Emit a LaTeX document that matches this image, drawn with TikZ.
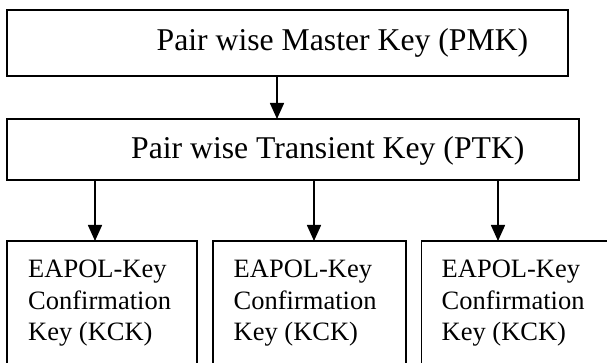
\documentclass[tikz,border=0pt]{standalone}
\usepackage{fontspec}
\setmainfont{Liberation Serif}
\usetikzlibrary{arrows.meta}
\begin{document}
\begin{tikzpicture}[x=1pt,y=-1pt,
  keybox/.style={draw, line width=1.5pt, inner sep=0pt, outer sep=0pt},
  bigtext/.style={font=\fontsize{31.7}{38}\selectfont, anchor=base west, inner sep=0pt},
  smalltext/.style={font=\fontsize{26.5}{31.5}\selectfont, anchor=base west, inner sep=0pt, align=left},
  arr/.style={line width=1.6pt, -{Triangle[width=14pt,length=16pt]}}]
\useasboundingbox (0,0) rectangle (607,363);
\clip (0,0) rectangle (607,363);
% boxes
\node[keybox, minimum width=561pt, minimum height=66pt] (pmk) at (287.5,43) {};
\node[keybox, minimum width=572pt, minimum height=61pt] (ptk) at (293,149.5) {};
\node[keybox, minimum width=190pt, minimum height=179pt] (k1) at (102,330.5) {};
\node[keybox, minimum width=193pt, minimum height=179pt] (k2) at (309.5,330.5) {};
\node[keybox, minimum width=298.5pt, minimum height=179pt] (k3) at (570.75,330.5) {};
% texts
\node[bigtext] (pmkt) at (156.5,51) {Pair wise Master Key (PMK)};
\node[bigtext] (ptkt) at (131,159) {Pair wise Transient Key (PTK)};
\node[smalltext] (k1t) at (28,340.5) {EAPOL-Key\\Confirmation\\Key (KCK)};
\node[smalltext] (k2t) at (233.5,340.5) {EAPOL-Key\\Confirmation\\Key (KCK)};
\node[smalltext] (k3t) at (441.5,340.5) {EAPOL-Key\\Confirmation\\Key (KCK)};
% arrows
\draw[arr] (277,0 |- pmk.south) -- (277,0 |- ptk.north);
\draw[arr] (95,0 |- ptk.south) -- (95,0 |- k1.north);
\draw[arr] (314,0 |- ptk.south) -- (314,0 |- k2.north);
\draw[arr] (498,0 |- ptk.south) -- (498,0 |- k3.north);
\end{tikzpicture}
\end{document}
